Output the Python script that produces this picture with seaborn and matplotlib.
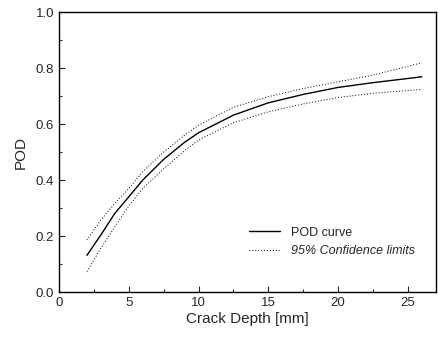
import numpy as np
import pandas as pd
import matplotlib
matplotlib.use("Agg")
import matplotlib.pyplot as plt
from matplotlib.ticker import MultipleLocator
import seaborn as sns

# values
depth = [2, 3, 4, 5, 6, 7.5, 9, 10, 12.5, 15, 17.5, 20, 22.5, 26]
pod = [0.131, 0.204, 0.281, 0.34, 0.40, 0.474, 0.535, 0.569, 0.632, 0.676, 0.706, 0.731, 0.748, 0.769]
upper = [0.186, 0.257, 0.317, 0.37, 0.43, 0.50, 0.560, 0.596, 0.660, 0.698, 0.727, 0.751, 0.775, 0.819]
lower = [0.073, 0.156, 0.233, 0.307, 0.37, 0.44, 0.505, 0.543, 0.605, 0.644, 0.672, 0.695, 0.710, 0.724]

sns.set_style("ticks")
plt.rcParams['font.family'] = ['Liberation Sans', 'DejaVu Sans']

df = pd.DataFrame({'depth': depth, 'pod': pod, 'upper': upper, 'lower': lower})

fig = plt.figure(figsize=(4.38, 3.37), dpi=100)
ax = fig.add_axes([0.1347, 0.1335, 0.8603, 0.8305])

sns.lineplot(x='depth', y='pod', data=df, color='black', linewidth=1.0, ax=ax,
             label='POD curve')
sns.lineplot(x='depth', y='upper', data=df, color='black', linewidth=0.7, ax=ax,
             linestyle=(0, (1, 2)), label='95% Confidence limits')
sns.lineplot(x='depth', y='lower', data=df, color='black', linewidth=0.7, ax=ax,
             linestyle=(0, (1, 2)))

ax.set_xlim(0, 27)
ax.set_ylim(0, 1.0)
ax.xaxis.set_major_locator(MultipleLocator(5))
ax.xaxis.set_minor_locator(MultipleLocator(2.5))
ax.yaxis.set_major_locator(MultipleLocator(0.2))
ax.yaxis.set_minor_locator(MultipleLocator(0.1))
ax.set_yticklabels([f'{v:.1f}' for v in ax.get_yticks()])
ax.tick_params(which='both', direction='in', labelsize=9.5, width=0.8)
ax.tick_params(which='major', length=4)
ax.tick_params(which='minor', length=2)
for s in ax.spines.values():
    s.set_linewidth(1.0)
    s.set_color('black')

ax.set_xlabel('Crack Depth [mm]', fontsize=11, labelpad=2)
ax.set_ylabel('POD', fontsize=11, labelpad=6)

leg = ax.legend(loc='lower right', bbox_to_anchor=(0.975, 0.085), frameon=False,
                fontsize=9, handlelength=2.5, handletextpad=0.9, labelspacing=0.5)
leg.get_texts()[1].set_style('italic')

fig.savefig('out.png', dpi=100)
